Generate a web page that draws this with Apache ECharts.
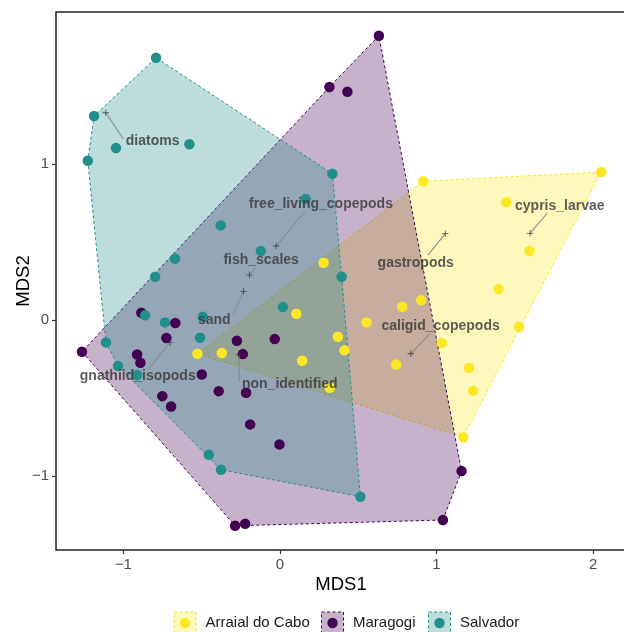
<!DOCTYPE html>
<html><head><meta charset="utf-8">
<script src="https://cdn.jsdelivr.net/npm/echarts@6/dist/echarts.min.js"></script>
<style>html,body{margin:0;padding:0;background:#fff}#c{width:624px;height:632px}</style>
</head><body><div id="c"></div>
<script>
// ---------- data ----------
const groups = ['Arraial do Cabo', 'Maragogi', 'Salvador'];

const arraialX = [0.915, 2.052, 1.445, 1.594, 1.397, 0.781, 0.902, 0.553, 1.527, 0.370, 0.412, 1.034, 0.142, 0.742, 1.207, 1.233, 0.318, 1.171, 0.279, -0.527, -0.371, 0.105];
const arraialY = [0.888, 0.948, 0.754, 0.442, 0.198, 0.085, 0.126, -0.015, -0.043, -0.107, -0.194, -0.147, -0.261, -0.284, -0.305, -0.453, -0.433, -0.751, 0.367, -0.216, -0.211, 0.040];

const maragogiX = [0.632, 0.316, 0.431, -0.885, -0.668, -0.725, -1.264, -0.912, -0.891, -0.275, -0.237, -0.033, -0.499, -0.391, -0.216, -0.751, -0.695, -0.190, -0.003, -0.286, -0.222, 1.160, 1.041];
const maragogiY = [1.820, 1.492, 1.462, 0.047, -0.019, -0.115, -0.203, -0.220, -0.273, -0.133, -0.218, -0.122, -0.348, -0.455, -0.465, -0.487, -0.553, -0.668, -0.796, -1.317, -1.304, -0.967, -1.280];

const salvadorX = [-0.791, -1.187, -1.047, -0.578, -1.227, 0.335, 0.164, -0.378, -0.122, -0.670, -0.797, 0.394, 0.019, -0.861, -0.734, -0.493, -0.510, -1.111, -1.034, -0.912, -0.454, -0.376, 0.514];
const salvadorY = [1.679, 1.306, 1.101, 1.125, 1.020, 0.937, 0.775, 0.606, 0.442, 0.392, 0.277, 0.277, 0.083, 0.030, -0.015, 0.021, -0.113, -0.143, -0.294, -0.352, -0.862, -0.958, -1.131];

const species  = ['diatoms', 'free_living_copepods', 'fish_scales', 'sand', 'gnathiid_isopods', 'non_identified', 'gastropods', 'cypris_larvae', 'caligid_copepods'];
const speciesX = [-1.112, -0.024, -0.195, -0.232, -0.702, -0.261, 1.056, 1.597, 0.836];
const speciesY = [1.327, 0.474, 0.288, 0.184, -0.143, -0.224, 0.553, 0.555, -0.216];
const labelX   = [-0.813, 0.262, -0.120, -0.419, -0.908, 0.063, 0.867, 1.787, 1.026];
const labelY   = [1.146, 0.745, 0.384, 0.000, -0.359, -0.412, 0.367, 0.732, -0.038];
const segEndX  = [-1.000, 0.157, -0.158, -0.301, -0.838, -0.259, 0.945, 1.709, 0.955];
const segEndY  = [1.159, 0.693, 0.333, 0.026, -0.312, -0.395, 0.416, 0.687, -0.090];

const xTicks = [-1, 0, 1, 2];
const yTicks = [-1, 0, 1];

// ---------- styling ----------
const colors = ['#FDE725', '#440154', '#21908C'];
const fills  = ['rgba(253,231,37,0.3)', 'rgba(68,1,84,0.3)', 'rgba(33,144,140,0.3)'];
const FONT = 'Liberation Sans, Arial, sans-serif';

const groupX = [arraialX, maragogiX, salvadorX];
const groupY = [arraialY, maragogiY, salvadorY];
const groupPts = groupX.map((xs, g) => xs.map((x, i) => [x, groupY[g][i]]));

function convexHull(points) {
  const p = points.slice().sort((a, b) => a[0] - b[0] || a[1] - b[1]);
  const cross = (o, a, b) => (a[0] - o[0]) * (b[1] - o[1]) - (a[1] - o[1]) * (b[0] - o[0]);
  const lower = [];
  for (const q of p) { while (lower.length >= 2 && cross(lower[lower.length - 2], lower[lower.length - 1], q) <= 0) lower.pop(); lower.push(q); }
  const upper = [];
  for (let i = p.length - 1; i >= 0; i--) { const q = p[i]; while (upper.length >= 2 && cross(upper[upper.length - 2], upper[upper.length - 1], q) <= 0) upper.pop(); upper.push(q); }
  upper.pop(); lower.pop();
  return lower.concat(upper);
}

const fmt = v => (v < 0 ? '\u2212' + Math.abs(v) : String(v));

const series = [];
groupPts.forEach((pts, g) => {
  const hull = convexHull(pts);
  series.push({
    type: 'custom', silent: true, z: 1 + g,
    data: [hull[0]],
    renderItem: (params, api) => ({
      type: 'polygon',
      shape: { points: hull.map(h => api.coord(h)) },
      style: { fill: fills[g], stroke: colors[g], lineWidth: 1, lineDash: [3, 2.5] }
    })
  });
});
groupPts.forEach((pts, g) => {
  series.push({
    type: 'scatter', name: groups[g], z: 10, silent: true,
    symbolSize: 10.5, data: pts,
    itemStyle: { color: colors[g], opacity: 1 }
  });
});
// leader segments
series.push({
  type: 'custom', z: 12, silent: true,
  data: species.map((s, i) => [speciesX[i], speciesY[i], segEndX[i], segEndY[i]]),
  renderItem: (params, api) => {
    const a = api.coord([api.value(0), api.value(1)]);
    const b = api.coord([api.value(2), api.value(3)]);
    return { type: 'line', shape: { x1: a[0], y1: a[1], x2: b[0], y2: b[1] }, style: { stroke: '#8a8a8a', lineWidth: 1.1 } };
  }
});
// plus markers
series.push({
  type: 'scatter', z: 13, silent: true,
  symbol: 'path://M2.6,0h0.8v2.6h2.6v0.8h-2.6v2.6h-0.8v-2.6h-2.6v-0.8h2.6z',
  symbolSize: 6.5,
  data: species.map((s, i) => [speciesX[i], speciesY[i]]),
  itemStyle: { color: '#333' }
});
// species labels
series.push({
  type: 'scatter', z: 14, silent: true,
  symbolSize: 1,
  itemStyle: { color: 'rgba(0,0,0,0)' },
  data: species.map((s, i) => ({ name: s, value: [labelX[i], labelY[i]] })),
  label: { show: true, position: 'inside', formatter: '{b}', fontFamily: FONT, fontWeight: 'bold', fontSize: 14, color: '#363636' }
});

// legend graphic
const keyX = [174, 321.5, 428.5];
const legendY = 623;
const legendEls = [];
groups.forEach((name, g) => {
  legendEls.push({ type: 'rect', shape: { x: keyX[g], y: legendY - 11, width: 22, height: 22 }, style: { fill: fills[g], stroke: colors[g], lineWidth: 1, lineDash: [3, 2.5] } });
  legendEls.push({ type: 'circle', shape: { cx: keyX[g] + 11, cy: legendY, r: 5.2 }, style: { fill: colors[g] } });
  legendEls.push({ type: 'text', style: { x: keyX[g] + 31.5, y: legendY, text: name, font: '15px ' + FONT, fill: '#1a1a1a', textVerticalAlign: 'middle' } });
});

const chart = echarts.init(document.getElementById('c'), null, { renderer: 'canvas' });
chart.setOption({
  animation: false,
  backgroundColor: '#fff',
  grid: { left: 56, top: 12, width: 570, height: 538, show: true, borderColor: '#222', borderWidth: 1.5, backgroundColor: 'transparent', containLabel: false, outerBoundsMode: 'none' },
  xAxis: {
    type: 'value', min: -1.43, max: 2.21,
    splitLine: { show: false },
    axisLine: { show: false, onZero: false },
    axisTick: { show: true, inside: false, customValues: xTicks, length: 4, lineStyle: { color: '#333', width: 1.2 } },
    axisLabel: { customValues: xTicks, formatter: fmt, color: '#4d4d4d', fontSize: 15, margin: 7, fontFamily: FONT },
    name: 'MDS1', nameLocation: 'middle', nameGap: 25, nameMoveOverlap: false,
    nameTextStyle: { fontSize: 18.5, color: '#000', fontFamily: FONT }
  },
  yAxis: {
    type: 'value', min: -1.472, max: 1.972,
    splitLine: { show: false },
    axisLine: { show: false, onZero: false },
    axisTick: { show: true, inside: false, customValues: yTicks, length: 4, lineStyle: { color: '#333', width: 1.2 } },
    axisLabel: { customValues: yTicks, formatter: fmt, color: '#4d4d4d', fontSize: 15, margin: 7, fontFamily: FONT },
    name: 'MDS2', nameLocation: 'middle', nameGap: 23, nameRotate: 90, nameMoveOverlap: false,
    nameTextStyle: { fontSize: 18.5, color: '#000', fontFamily: FONT }
  },
  graphic: legendEls,
  series: series
});
</script>
</body></html>
